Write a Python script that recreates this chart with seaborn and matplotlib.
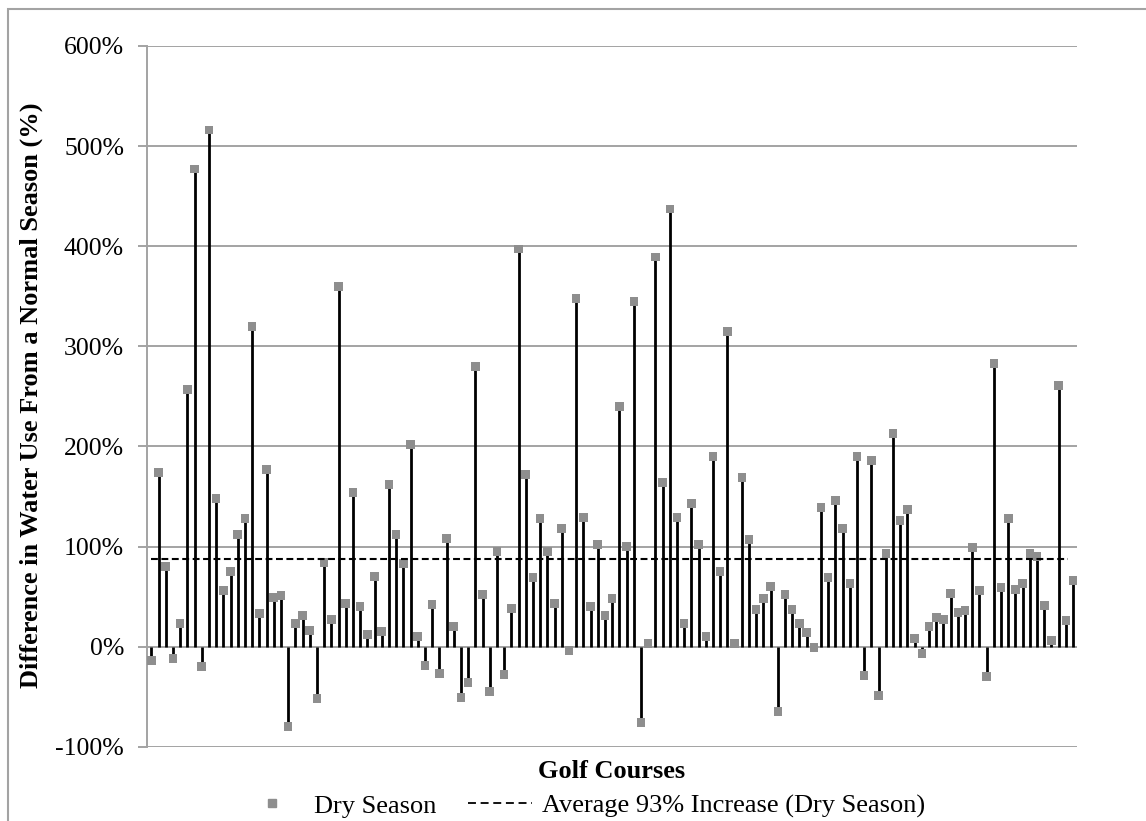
import numpy as np
import pandas as pd
import matplotlib
matplotlib.use("Agg")
import matplotlib.pyplot as plt
from matplotlib.patches import Rectangle
from matplotlib.lines import Line2D
import seaborn as sns

# Dry season difference in water use (%) per golf course
dry_season = [
    -14, 174, 80, -12, 23, 257, 477, -20, 516, 148, 56, 75, 112, 128, 320, 33, 177, 49, 51, -80, 23,
    31, 16, -52, 84, 27, 360, 43, 154, 40, 12, 70, 15, 162, 112, 83, 202, 10, -19, 42, -27, 108,
    20, -51, -36, 280, 52, -45, 95, -28, 38, 397, 172, 69, 128, 95, 43, 118, -4, 348, 129, 40, 102,
    31, 48, 240, 100, 345, -76, 3, 389, 164, 437, 129, 23, 143, 102, 10, 190, 75, 315, 3, 169, 107,
    37, 48, 60, -65, 52, 37, 23, 14, -1, 139, 69, 146, 118, 63, 190, -29, 186, -49, 93, 213,
    126, 137, 8, -7, 20, 29, 27, 53, 34, 36, 99, 56, -30, 283, 59, 128, 57, 63, 93, 90, 41, 6, 261, 26, 66,
]
average_level = 88  # drawn position of the average line (%)
y_ticks = [-100, 0, 100, 200, 300, 400, 500, 600]
y_tick_labels = ["-100%", "0%", "100%", "200%", "300%", "400%", "500%", "600%"]
series_label = "Dry Season"
average_label = "Average 93% Increase (Dry Season)"
x_title = "Golf Courses"
y_title = "Difference in Water Use From a Normal Season (%)"

df = pd.DataFrame({"course": np.arange(len(dry_season)), "value": dry_season})

sns.set_theme(style="white")
plt.rcParams["font.family"] = ["Liberation Serif", "DejaVu Serif"]
plt.rcParams["text.color"] = "black"

W, H = 1146, 821
GRID = "#a3a3a3"
MARK = "#8e8e8e"

fig = plt.figure(figsize=(W / 100, H / 100), dpi=100)
ax_left, ax_right, ax_top, ax_bottom = 147, 1077, 46, 746.7
ax = fig.add_axes([ax_left / W, 1 - ax_bottom / H, (ax_right - ax_left) / W, (ax_bottom - ax_top) / H])

# gridlines
for t in y_ticks:
    ax.axhline(t, color=GRID, lw=1.4, zorder=0)

# stems
ax.vlines(df["course"], 0, df["value"], color="black", lw=2.0, zorder=2)

# markers
sns.scatterplot(data=df, x="course", y="value", marker="s", s=38, color=MARK,
                edgecolor="none", ax=ax, zorder=3, legend=False)

# average line
avg_df = pd.DataFrame({"course": [df["course"].iloc[0], df["course"].iloc[-1] - 0.7],
                       "value": [average_level, average_level]})
ax.plot(avg_df["course"], avg_df["value"], color="black", lw=1.5,
        linestyle=(0, (3.3, 1.7)), zorder=4)

ax.set_xlim(-0.6, len(dry_season) - 1 + 0.55)
ax.set_ylim(-100, 600)
ax.set_yticks(y_ticks)
ax.set_yticklabels(y_tick_labels, fontsize=18.5, color="black")
ax.set_xticks([])
ax.tick_params(axis="y", length=6.5, width=1.4, color=GRID, pad=10, left=True)
for s in ["top", "right", "bottom"]:
    ax.spines[s].set_visible(False)
ax.spines["left"].set_color(GRID)
ax.spines["left"].set_linewidth(1.4)
ax.set_xlabel("")
ax.set_ylabel("")

fig.text(31 / W, 1 - 395 / H, y_title, rotation=90, ha="center", va="center",
         fontsize=19, fontweight="bold", color="black")
fig.text(612 / W, 1 - 771 / H, x_title, ha="center", va="center",
         fontsize=19, fontweight="bold", color="black")

handles = [
    Line2D([], [], marker="s", linestyle="none", color=MARK, markersize=6),
    Line2D([], [], color="black", lw=1.3, linestyle=(0, (4.4, 2.6))),
]
fig.legend(handles, [series_label, average_label], loc="center",
           bbox_to_anchor=(583 / W, 1 - 806 / H), ncol=2, frameon=False,
           fontsize=19, handlelength=2.4, columnspacing=1.2, handletextpad=0.4,
           labelcolor="black", borderpad=0.2)

fig.patches.append(Rectangle((8 / W, -0.05), 1.1, 1 - 9 / H + 0.05, transform=fig.transFigure,
                             fill=False, edgecolor=GRID, lw=1.5))

fig.savefig("out.png", dpi=100, facecolor="white")
